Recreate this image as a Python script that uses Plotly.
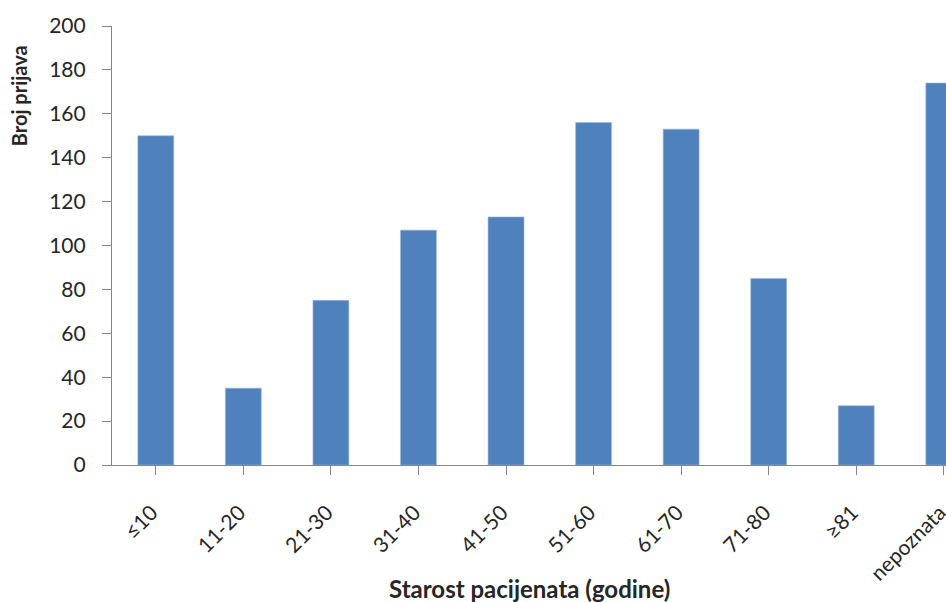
import plotly.graph_objects as go

# Age groups and number of reports
age_groups = ["≤10", "11-20", "21-30", "31-40", "41-50", "51-60", "61-70", "71-80", "≥81", "nepoznata"]
report_counts = [150, 35, 75, 107, 113, 156, 153, 85, 27, 174]
y_ticks = [0, 20, 40, 60, 80, 100, 120, 140, 160, 180, 200]

x_title = "Starost pacijenata (godine)"
y_title = "Broj prijava"

FONT = "Lato, 'Open Sans', sans-serif"
TEXT = "#262626"
AXIS = "#868686"

fig = go.Figure(
    go.Bar(
        x=list(range(len(age_groups))),
        y=report_counts,
        marker=dict(color="#4F81BD", line=dict(color="#9BB7DC", width=0.6)),
        width=0.41,
    )
)

fig.update_layout(
    width=946,
    height=602,
    margin=dict(l=112, r=0, t=26, b=137),
    paper_bgcolor="white",
    plot_bgcolor="white",
    showlegend=False,
    font=dict(family=FONT, color=TEXT),
)

fig.update_xaxes(
    tickmode="array",
    tickvals=list(range(len(age_groups))),
    ticktext=age_groups,
    range=[-0.5, 9.025],
    tickangle=-45,
    tickfont=dict(size=21, color=TEXT),
    ticklabeloverflow="allow",
    ticklabelstandoff=17,
    ticklabelshift=-4,
    showline=True,
    linecolor=AXIS,
    linewidth=1.2,
    ticks="outside",
    ticklen=9,
    tickcolor=AXIS,
    tickwidth=1.2,
    tickson="boundaries",
    showgrid=False,
    zeroline=False,
    automargin=False,
)

fig.update_yaxes(
    range=[0, 200],
    tickmode="array",
    tickvals=y_ticks,
    tickfont=dict(size=21, color=TEXT),
    showline=True,
    linecolor=AXIS,
    linewidth=1.2,
    ticks="outside",
    ticklen=9,
    tickcolor=AXIS,
    tickwidth=1.2,
    ticklabelstandoff=12,
    showgrid=False,
    zeroline=False,
    automargin=False,
)

fig.add_annotation(
    text=f"<b>{x_title}</b>",
    xref="paper", yref="paper",
    x=0.5, y=-0.2802,
    xanchor="center", yanchor="middle",
    showarrow=False,
    font=dict(size=24, family=FONT, color=TEXT),
)

fig.add_annotation(
    text=f"<b>{y_title}</b>",
    xref="paper", yref="paper",
    x=-0.1115, y=0.84,
    xanchor="center", yanchor="middle",
    textangle=-90,
    showarrow=False,
    font=dict(size=20, family=FONT, color=TEXT),
)

fig.write_html("out.html")
